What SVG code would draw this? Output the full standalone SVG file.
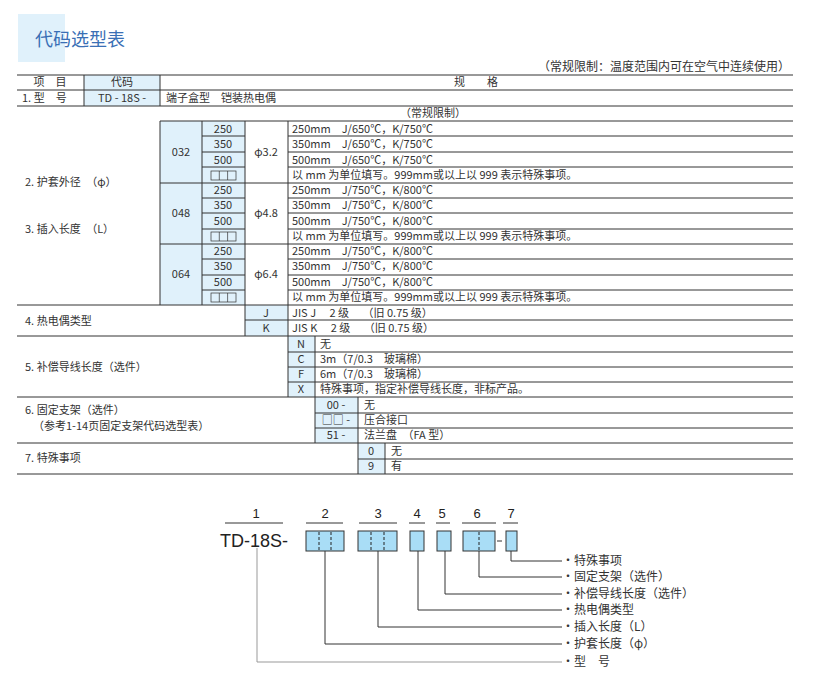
<svg xmlns="http://www.w3.org/2000/svg" width="813" height="680" viewBox="0 0 813 680">
<style>
text{font-family:"Noto Sans CJK SC","Liberation Sans",sans-serif;font-size:11px;fill:#333}
.c{text-anchor:middle}
.b{fill:#e0f1fb}
.l{stroke:#333;stroke-width:1;fill:none}
.bx{fill:#a9ddf6;stroke:#333;stroke-width:1}
.d{stroke:#222;stroke-dasharray:3,2}
.lab{font-size:12px}
.num{font-family:"Liberation Sans",sans-serif;font-size:13px;text-anchor:middle;fill:#222}
</style>
<rect x="18" y="14" width="47" height="48" fill="#e0f1fb"/>
<text x="35" y="46" style="font-size:18px;fill:#3a6fb5">代码选型表</text>
<text x="790" y="71" style="text-anchor:end;font-size:12px">（常规限制：温度范围内可在空气中连续使用）</text>
<g id="table">
<rect class="b" x="84" y="75" width="76" height="31"/>
<rect class="b" x="160" y="121" width="85" height="184"/>
<rect class="b" x="245" y="305" width="43" height="31"/>
<rect class="b" x="288" y="336" width="27" height="61"/>
<rect class="b" x="315" y="397" width="43" height="46"/>
<rect class="b" x="358" y="443" width="27" height="31"/>
<g class="l">
<path d="M17 75H793M17 90H793M17 106H793M160 121H793M202 136H245M288 136H793M202 152H245M288 152H793M202 167H245M288 167H793M160 183H793M202 198H245M288 198H793M202 213H245M288 213H793M202 229H245M288 229H793M160 244H793M202 259H245M288 259H793M202 275H245M288 275H793M202 290H245M288 290H793M17 305H793M245 320H793M17 336H793M288 352H793M288 367H793M288 382H793M17 397H793M315 413H793M315 428H793M17 443H793M358 459H793M17 474H793"/>
<path d="M84 75V106M160 75V106M160 121V305M202 121V305M245 121V336M288 121V397M315 336V443M358 397V474M385 443V474"/>
</g>
<text x="50" y="86" class="c">项　目</text><text x="122" y="86" class="c">代码</text><text x="476" y="86" class="c">规　　格</text>
<text x="22" y="102">1. 型　号</text><text x="122" y="102" class="c">TD - 18S -</text><text x="166" y="102">端子盒型　铠装热电偶</text>
<text x="400" y="117">（常规限制）</text>
<g id="g032"><text x="181" y="156" class="c">032</text><text x="266" y="156" class="c">φ3.2</text>
<text x="223" y="133" class="c">250</text><text x="223" y="148" class="c">350</text><text x="223" y="164" class="c">500</text>
<rect x="211" y="171" width="25" height="9" fill="none" stroke="#333" stroke-width="0.7"/><path d="M219.3 171V180M227.6 171V180" stroke="#333" stroke-width="0.7"/>
<text x="292" y="133">250mm　J/650℃，K/750℃</text><text x="292" y="148">350mm　J/650℃，K/750℃</text><text x="292" y="164">500mm　J/650℃，K/750℃</text><text x="292" y="179">以 mm 为单位填写。999mm或以上以 999 表示特殊事项。</text></g>
<g id="g048"><text x="181" y="217" class="c">048</text><text x="266" y="217" class="c">φ4.8</text>
<text x="223" y="194" class="c">250</text><text x="223" y="209" class="c">350</text><text x="223" y="225" class="c">500</text>
<rect x="211" y="232" width="25" height="9" fill="none" stroke="#333" stroke-width="0.7"/><path d="M219.3 232V241M227.6 232V241" stroke="#333" stroke-width="0.7"/>
<text x="292" y="194">250mm　J/750℃，K/800℃</text><text x="292" y="209">350mm　J/750℃，K/800℃</text><text x="292" y="225">500mm　J/750℃，K/800℃</text><text x="292" y="240">以 mm 为单位填写。999mm或以上以 999 表示特殊事项。</text></g>
<g id="g064"><text x="181" y="278" class="c">064</text><text x="266" y="278" class="c">φ6.4</text>
<text x="223" y="255" class="c">250</text><text x="223" y="270" class="c">350</text><text x="223" y="286" class="c">500</text>
<rect x="211" y="293" width="25" height="9" fill="none" stroke="#333" stroke-width="0.7"/><path d="M219.3 293V302M227.6 293V302" stroke="#333" stroke-width="0.7"/>
<text x="292" y="255">250mm　J/750℃，K/800℃</text><text x="292" y="270">350mm　J/750℃，K/800℃</text><text x="292" y="286">500mm　J/750℃，K/800℃</text><text x="292" y="301">以 mm 为单位填写。999mm或以上以 999 表示特殊事项。</text></g>
<text x="25" y="186">2. 护套外径　（φ）</text><text x="25" y="233">3. 插入长度　（L）</text>
<text x="25" y="325">4. 热电偶类型</text>
<text x="266" y="317" class="c">J</text><text x="266" y="332" class="c">K</text>
<text x="292" y="317">JIS J　 2 级　 （旧 0.75 级）</text><text x="292" y="332">JIS K　 2 级　 （旧 0.75 级）</text>
<text x="25" y="371">5. 补偿导线长度（选件）</text>
<text x="301" y="348" class="c">N</text><text x="301" y="363" class="c">C</text><text x="301" y="378" class="c">F</text><text x="301" y="393" class="c">X</text>
<text x="320" y="348">无</text><text x="320" y="363">3m（7/0.3　玻璃棉）</text><text x="320" y="378">6m（7/0.3　玻璃棉）</text><text x="320" y="393">特殊事项，指定补偿导线长度，非标产品。</text>
<text x="25" y="414">6. 固定支架（选件）</text><text x="33" y="430">（参考1-14页固定支架代码选型表）</text>
<text x="336" y="409" class="c">00 -</text><text x="336" y="424" class="c">□□ -</text><text x="336" y="439" class="c">51 -</text>
<text x="364" y="409">无</text><text x="364" y="424">压合接口</text><text x="364" y="439">法兰盘　（FA 型）</text>
<text x="25" y="462">7. 特殊事项</text>
<text x="371" y="455" class="c">0</text><text x="371" y="470" class="c">9</text>
<text x="391" y="455">无</text><text x="391" y="470">有</text>
</g>
<g id="code">
<text x="256" y="518" class="num">1</text><text x="325" y="518" class="num">2</text><text x="378" y="518" class="num">3</text><text x="417" y="518" class="num">4</text><text x="442" y="518" class="num">5</text><text x="477" y="518" class="num">6</text><text x="511" y="518" class="num">7</text>
<path class="l" d="M225 523H283M306 523H343M359 523H397M409 523H425M436 523H450M462 523H496M503 523H518"/>
<text x="220" y="547" style="font-family:'Liberation Sans',sans-serif;font-size:18px;fill:#222">TD-18S-</text>
<rect class="bx" x="306" y="531" width="38" height="20"/><path class="d" d="M319 532V550M331 532V550"/>
<rect class="bx" x="358" y="531" width="39" height="20"/><path class="d" d="M371 532V550M384 532V550"/>
<rect class="bx" x="410" y="531" width="14" height="20"/>
<rect class="bx" x="437" y="531" width="14" height="20"/>
<rect class="bx" x="463" y="531" width="32" height="20"/><path class="d" d="M479 532V550"/>
<path class="l" d="M497 541H502"/>
<rect class="bx" x="506" y="531" width="11" height="20"/>
</g>
<g id="connectors" class="l">
<path d="M511 551V561H562M479 551V577H562M445 551V594H562M418 551V610H562M378 551V627H562M325 551V644H562"/>
<path d="M257 548V662H562" stroke="#999"/>
</g>
<g id="labels">
<text x="562" y="565" class="lab">•特殊事项</text><text x="562" y="581" class="lab">•固定支架（选件）</text><text x="562" y="598" class="lab">•补偿导线长度（选件）</text><text x="562" y="614" class="lab">•热电偶类型</text><text x="562" y="631" class="lab">•插入长度（L）</text><text x="562" y="648" class="lab">•护套长度（φ）</text><text x="562" y="666" class="lab">•型　号</text>
</g>
</svg>
